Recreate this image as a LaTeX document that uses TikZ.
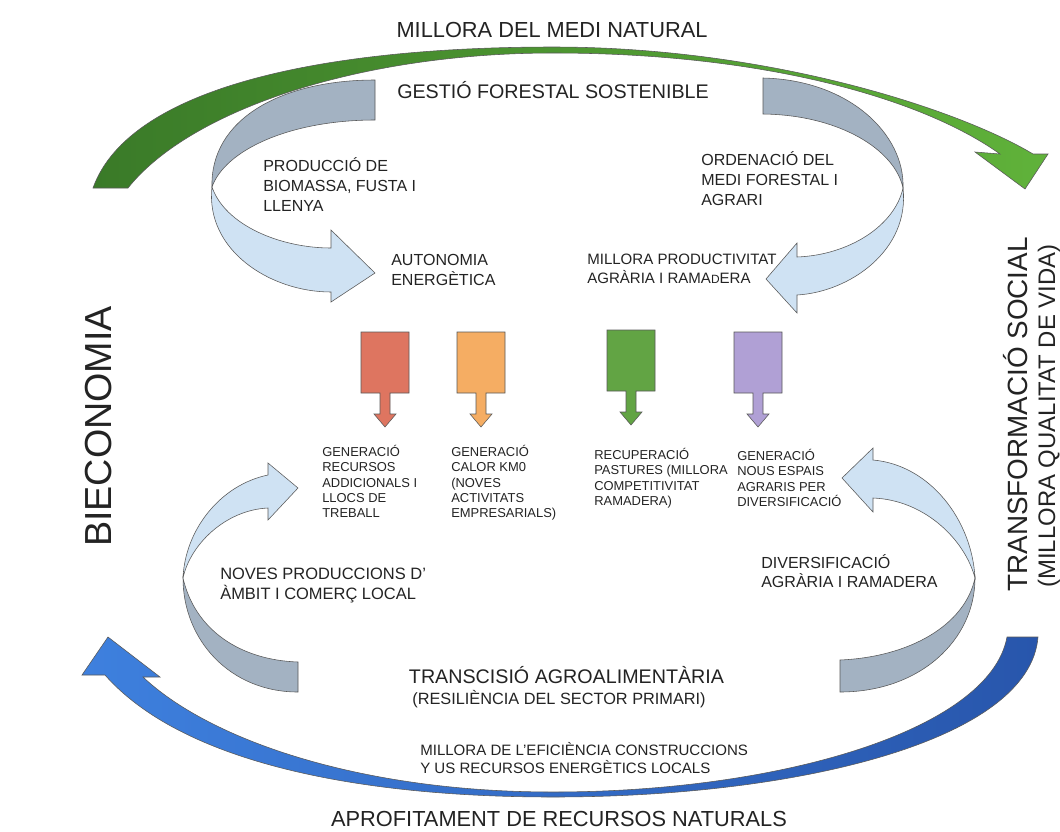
\documentclass[tikz,border=0pt]{standalone}
\usepackage{fontspec}
\setmainfont{Liberation Sans}
\usepackage{tikz}

\definecolor{verdfosc}{RGB}{58,122,40}
\definecolor{verdclar}{RGB}{96,178,58}
\definecolor{blauclar}{RGB}{62,128,222}
\definecolor{blaufosc}{RGB}{40,86,172}
\definecolor{cinta}{RGB}{207,226,243}
\definecolor{cintagris}{RGB}{163,178,194}
\definecolor{caixavermell}{RGB}{222,117,96}
\definecolor{caixataronja}{RGB}{245,173,99}
\definecolor{caixaverd}{RGB}{98,164,68}
\definecolor{caixalila}{RGB}{176,160,213}
\definecolor{lletra}{RGB}{35,35,35}

\tikzset{
  vora/.style={draw=black!65, line width=0.4pt},
  cintablava/.style={vora, fill=cinta},
  cintagrisa/.style={vora, fill=cintagris},
  gran/.style={inner sep=0, text=lletra, font=\fontsize{15.5}{18}\selectfont},
  mitja/.style={inner sep=0, text=lletra, font=\fontsize{14}{17}\selectfont},
  lateral/.style={inner sep=0, text=lletra, align=left, anchor=north west, font=\fontsize{11.4}{14.4}\selectfont},
  petit/.style={inner sep=0, text=lletra, align=left, anchor=north west, font=\fontsize{9.2}{10.9}\selectfont},
}

\begin{document}
\begin{tikzpicture}[x=0.025cm, y=-0.025cm]
\fill [white] (0,0) rectangle (1060,831);
\useasboundingbox (0,0) rectangle (1060,831);

% arcs grans
\draw [vora, left color=verdfosc, right color=verdclar] (93,188) .. controls (130,85) and (330,47) .. (553,47) .. controls (770,47) and (960,110) .. (1033,154) -- (1048,154) -- (1025,189) -- (975,152) -- (1000,154) .. controls (920,97) and (760,53) .. (553,53) .. controls (360,53) and (190,110) .. (128,188) -- cycle;
\draw [vora, left color=blauclar, right color=blaufosc] (1007,637) -- (1038,637) .. controls (1030,740) and (800,797) .. (553,797) .. controls (350,797) and (180,760) .. (105,675) -- (82,675) -- (108,637) -- (160,677) -- (143,677) .. controls (210,740) and (360,792) .. (553,792) .. controls (780,792) and (990,730) .. (1007,637) -- cycle;

% cintes de dalt
\draw [cintagrisa] (375,80) -- (375,120) .. controls (290,120) and (225,150) .. (212,187) .. controls (210,120) and (280,80) .. (375,80) -- cycle;
\draw [cintablava] (212,187) .. controls (205,250) and (270,292) .. (331,292) -- (331,302) -- (375,273) -- (331,230) -- (331,248) .. controls (280,248) and (225,225) .. (212,187) -- cycle;
\draw [cintagrisa] (763,78) -- (763,114) .. controls (840,115) and (895,150) .. (903,188) .. controls (905,135) and (850,80) .. (763,78) -- cycle;
\draw [cintablava] (903,188) .. controls (910,250) and (850,292) .. (797,295) -- (797,313) -- (766,279) -- (797,243) -- (797,257) .. controls (850,255) and (895,225) .. (903,188) -- cycle;

% cintes de baix
\draw [cintablava] (268,475) .. controls (220,485) and (185,530) .. (183,578) .. controls (190,545) and (225,510) .. (268,508) -- (268,520) -- (298,488) -- (268,463) -- cycle;
\draw [cintagrisa] (183,578) .. controls (183,640) and (230,692) .. (298,692) -- (298,662) .. controls (240,660) and (195,630) .. (183,578) -- cycle;
\draw [cintablava] (873,460) .. controls (930,465) and (972,520) .. (975,578) .. controls (965,540) and (925,500) .. (873,498) -- (873,512) -- (842,478) -- (873,448) -- cycle;
\draw [cintagrisa] (975,578) .. controls (975,640) and (920,692) .. (840,692) -- (840,660) .. controls (910,657) and (965,625) .. (975,578) -- cycle;

% caixes de colors
\draw [vora, fill=caixavermell] (361,332) -- (409,332) -- (409,393) -- (390,393) -- (390,414) -- (396,414) -- (385,427) -- (374,414) -- (380,414) -- (380,393) -- (361,393) -- cycle;
\draw [vora, fill=caixataronja] (457,332) -- (505,332) -- (505,393) -- (486,393) -- (486,414) -- (492,414) -- (481,427) -- (470,414) -- (476,414) -- (476,393) -- (457,393) -- cycle;
\draw [vora, fill=caixaverd] (607,330) -- (655,330) -- (655,391) -- (636,391) -- (636,412) -- (642,412) -- (631,425) -- (620,412) -- (626,412) -- (626,391) -- (607,391) -- cycle;
\draw [vora, fill=caixalila] (734,332) -- (782,332) -- (782,393) -- (763,393) -- (763,414) -- (769,414) -- (758,427) -- (747,414) -- (753,414) -- (753,393) -- (734,393) -- cycle;

% textos
\node [gran, anchor=base] (medinatural) at (552,37.8) {MILLORA DEL MEDI NATURAL};
\node [mitja, anchor=base] (gestio) at (553,98) {GESTIÓ FORESTAL SOSTENIBLE};
\node [lateral] (produccio) at (263,157) {PRODUCCIÓ DE\\BIOMASSA, FUSTA I\\LLENYA};
\node [lateral] (autonomia) at (391,254) {AUTONOMIA\\ENERGÈTICA};
\node [lateral] (ordenacio) at (701,151) {ORDENACIÓ DEL\\MEDI FORESTAL I\\AGRARI};
\node [lateral, font=\fontsize{10.7}{13.5}\selectfont] (productivitat) at (587,254) {MILLORA PRODUCTIVITAT\\AGRÀRIA I RAMA{\fontsize{8.5}{10}\selectfont D}ERA};
\node [petit] (recursos) at (322,445) {GENERACIÓ\\RECURSOS\\ADDICIONALS I\\LLOCS DE\\TREBALL};
\node [petit] (calor) at (451,445) {GENERACIÓ\\CALOR KM0\\(NOVES\\ACTIVITATS\\EMPRESARIALS)};
\node [petit] (pastures) at (594,448) {RECUPERACIÓ\\PASTURES (MILLORA\\COMPETITIVITAT\\RAMADERA)};
\node [petit] (espais) at (737,449) {GENERACIÓ\\NOUS ESPAIS\\AGRARIS PER\\DIVERSIFICACIÓ};
\node [lateral, font=\fontsize{11.7}{14.2}\selectfont] (noves) at (220,568) {NOVES PRODUCCIONS D’\\ÀMBIT I COMERÇ LOCAL};
\node [lateral, font=\fontsize{11.4}{13.9}\selectfont] (diversificacio) at (761,554) {DIVERSIFICACIÓ\\AGRÀRIA I RAMADERA};
\node [mitja, anchor=base] (transicio) at (566.5,683) {TRANSCISIÓ AGROALIMENTÀRIA};
\node [gran, font=\fontsize{11.6}{14}\selectfont, anchor=base] (resiliencia) at (559,704) {(RESILIÈNCIA DEL SECTOR PRIMARI)};
\node [lateral, font=\fontsize{10.7}{12.8}\selectfont] (eficiencia) at (420,742) {MILLORA DE L’EFICIÈNCIA CONSTRUCCIONS\\Y US RECURSOS ENERGÈTICS LOCALS};
\node [gran, anchor=base] (aprofitament) at (559,826.8) {APROFITAMENT DE RECURSOS NATURALS};
\node [gran, font=\fontsize{26.8}{30}\selectfont, rotate=90, anchor=base] (bieconomia) at (111,426.5) {BIECONOMIA};
\node [gran, font=\fontsize{19.8}{22}\selectfont, rotate=90, anchor=base] (transformacio) at (1027,414.5) {TRANSFORMACIÓ SOCIAL};
\node [gran, font=\fontsize{17}{20}\selectfont, rotate=90, anchor=base] (qualitat) at (1055,416) {(MILLORA QUALITAT DE VIDA)};
\end{tikzpicture}
\end{document}
